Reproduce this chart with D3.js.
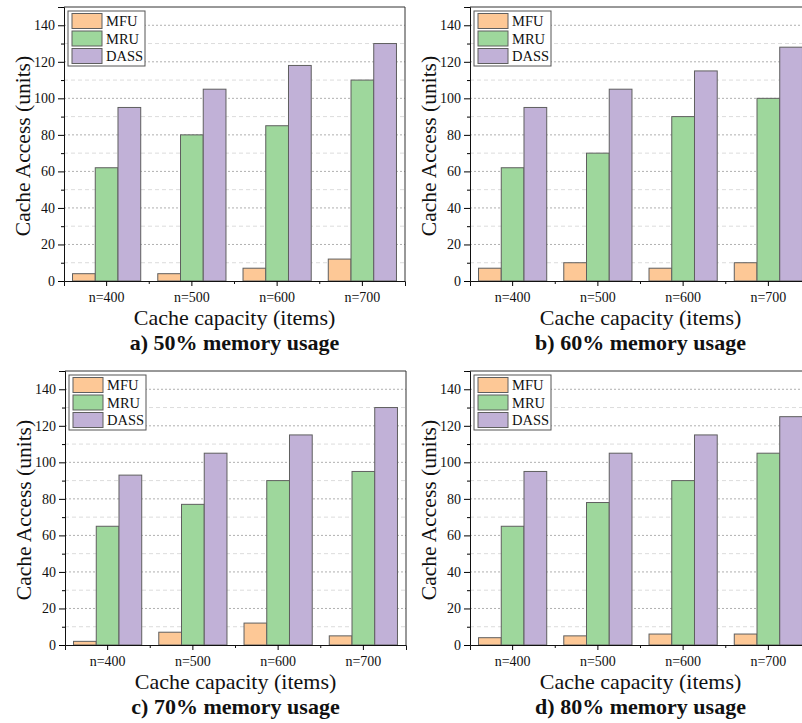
<!DOCTYPE html>
<html>
<head>
<meta charset="utf-8">
<script src="https://cdn.jsdelivr.net/npm/d3@7"></script>
<style>
  body { margin: 0; background: #fff; }
  svg text { font-family: 'Liberation Serif', 'DejaVu Serif', serif !important; }
</style>
</head>
<body>
<svg id="chart" width="802" height="723"></svg>
<script>
var categories = ['n=400', 'n=500', 'n=600', 'n=700'];
var seriesNames = ['MFU', 'MRU', 'DASS'];
var seriesColors = ['#fdc896', '#9ed79c', '#c1b1d7'];
var yMajorTicks = [0, 20, 40, 60, 80, 100, 120, 140];
var yMinorTicks = [10, 30, 50, 70, 90, 110, 130, 150];

var mfuA = [4, 4, 7, 12],  mruA = [62, 80, 85, 110], dassA = [95, 105, 118, 130];
var mfuB = [7, 10, 7, 10], mruB = [62, 70, 90, 100], dassB = [95, 105, 115, 128];
var mfuC = [2, 7, 12, 5],  mruC = [65, 77, 90, 95],  dassC = [93, 105, 115, 130];
var mfuD = [4, 5, 6, 6],   mruD = [65, 78, 90, 105], dassD = [95, 105, 115, 125];

var panelTitles = ['a) 50% memory usage', 'b) 60% memory usage', 'c) 70% memory usage', 'd) 80% memory usage'];

var panels = [
    { left: 64,  top: 7,   series: [mfuA, mruA, dassA], title: panelTitles[0] },
    { left: 470, top: 7,   series: [mfuB, mruB, dassB], title: panelTitles[1] },
    { left: 65,  top: 371, series: [mfuC, mruC, dassC], title: panelTitles[2] },
    { left: 470, top: 371, series: [mfuD, mruD, dassD], title: panelTitles[3] }
];

var W = 341, H = 274;
var svg = d3.select('#chart');

panels.forEach(function( p ){
    var g = svg.append('g').attr('transform', 'translate(' + p.left + ',' + p.top + ')');

    var x = d3.scaleBand().domain(categories).range([0, W]).padding(0);
    var inner = d3.scaleBand().domain(seriesNames)
        .range([x.bandwidth() * 0.1, x.bandwidth() * 0.9]).padding(0);
    var y = d3.scaleLinear().domain([0, 150]).range([H, 0]);

    // grid lines
    g.append('g').selectAll('line').data(yMinorTicks.filter(function(d){ return d < 150; }))
        .enter().append('line')
        .attr('x1', 0).attr('x2', W)
        .attr('y1', function(d){ return y(d); }).attr('y2', function(d){ return y(d); })
        .attr('stroke', '#dcdcdc').attr('stroke-dasharray', '4,3').attr('stroke-width', 1);
    g.append('g').selectAll('line').data(yMajorTicks.slice(1))
        .enter().append('line')
        .attr('x1', 0).attr('x2', W)
        .attr('y1', function(d){ return y(d); }).attr('y2', function(d){ return y(d); })
        .attr('stroke', '#b0b0b0').attr('stroke-dasharray', '2,2').attr('stroke-width', 1);

    // bars
    var groups = g.append('g').selectAll('g').data(categories).enter().append('g')
        .attr('transform', function(d){ return 'translate(' + x(d) + ',0)'; });
    groups.selectAll('rect')
        .data(function(d, i){
            return seriesNames.map(function(s, k){ return { s: s, v: p.series[k][i], k: k }; });
        })
        .enter().append('rect')
        .attr('x', function(d){ return inner(d.s); })
        .attr('width', inner.bandwidth())
        .attr('y', function(d){ return y(d.v); })
        .attr('height', function(d){ return H - y(d.v); })
        .attr('fill', function(d){ return seriesColors[d.k]; })
        .attr('stroke', '#5f5f5f').attr('stroke-width', 1);

    // frame top/right
    g.append('path').attr('d', 'M0,0H' + W + 'V' + H)
        .attr('fill', 'none').attr('stroke', '#333').attr('stroke-width', 1);

    // y axis
    var yAxis = g.append('g').call(d3.axisLeft(y).tickValues(yMajorTicks).tickSize(6).tickPadding(3));
    g.append('g').call(d3.axisLeft(y).tickValues(yMinorTicks).tickSize(3).tickFormat(''))
        .select('.domain').remove();
    yAxis.selectAll('text').attr('font-size', '14px').attr('fill', '#111');
    g.selectAll('.domain').attr('stroke', '#111');

    // x axis
    var xAxis = g.append('g').attr('transform', 'translate(0,' + H + ')')
        .call(d3.axisBottom(x).tickSize(5).tickPadding(6));
    xAxis.selectAll('text').attr('font-size', '14px').attr('fill', '#111');
    xAxis.select('.domain').attr('stroke', '#111');
    var bounds = categories.slice(1).map(function(c){ return x(c); });
    g.append('g').selectAll('line').data(bounds).enter().append('line')
        .attr('x1', function(d){ return d; }).attr('x2', function(d){ return d; })
        .attr('y1', H).attr('y2', H + 3).attr('stroke', '#111');

    // axis titles
    g.append('text').attr('x', W / 2).attr('y', H + 44)
        .attr('text-anchor', 'middle').attr('font-size', '22px').attr('fill', '#111')
        .text('Cache capacity (items)');
    g.append('text').attr('x', W / 2).attr('y', H + 69)
        .attr('text-anchor', 'middle').attr('font-size', '22px').attr('font-weight', 'bold')
        .attr('fill', '#111').text(p.title);
    g.append('text')
        .attr('transform', 'translate(-34,' + (H / 2 + 2) + ') rotate(-90)')
        .attr('text-anchor', 'middle').attr('font-size', '21.5px').attr('fill', '#111')
        .text('Cache Access (units)');

    // legend
    var lg = g.append('g').attr('transform', 'translate(4,4)');
    lg.append('rect').attr('x', 0).attr('y', 0).attr('width', 77).attr('height', 55)
        .attr('fill', '#fff').attr('stroke', '#555').attr('stroke-width', 1);
    seriesNames.forEach(function(s, k){
        lg.append('rect').attr('x', 4).attr('y', 2.5 + k * 17.5).attr('width', 30).attr('height', 15)
            .attr('fill', seriesColors[k]).attr('stroke', '#5f5f5f');
        lg.append('text').attr('x', 38).attr('y', 15 + k * 17.5)
            .attr('font-size', '14.5px').attr('fill', '#111').text(s);
    });
});
</script>
</body>
</html>
